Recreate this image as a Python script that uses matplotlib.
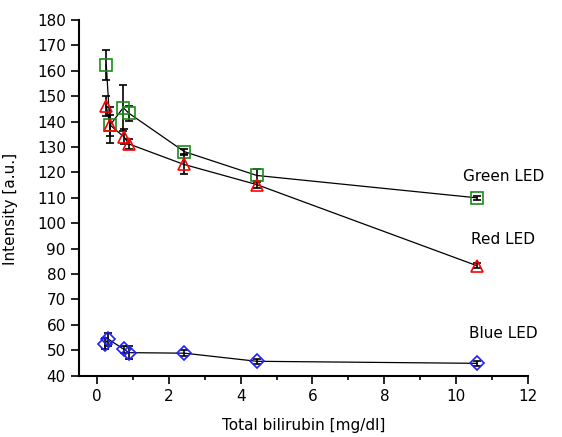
import matplotlib.pyplot as plt
from matplotlib.ticker import MultipleLocator

# data
green_x = [0.26, 0.36, 0.73, 0.89, 2.43, 4.45, 10.57]
green_y = [162.3, 138.5, 145.5, 143.3, 128.2, 118.8, 110.0]
green_err = [6.0, 4.0, 9.0, 3.0, 1.2, 2.5, 0.8]

red_x = [0.26, 0.36, 0.75, 0.89, 2.41, 4.45, 10.57]
red_y = [146.1, 138.7, 134.0, 131.2, 123.2, 115.2, 83.3]
red_err = [4.0, 7.0, 3.0, 2.0, 4.0, 1.5, 1.0]

blue_x = [0.22, 0.32, 0.75, 0.89, 2.43, 4.45, 10.57]
blue_y = [52.6, 54.3, 50.3, 49.0, 48.8, 45.6, 44.8]
blue_err = [2.0, 2.5, 1.5, 2.5, 1.2, 1.0, 1.0]

labels = ["Green LED", "Red LED", "Blue LED"]
label_xy = [(10.2, 118.3), (10.4, 93.5), (10.35, 56.5)]

fig = plt.figure(figsize=(5.62, 4.37), dpi=100)
ax = fig.add_axes([0.1406, 0.1407, 0.7989, 0.8133])

series = [
    (green_x, green_y, green_err, "s", 8, "#1a8a1a"),
    (red_x, red_y, red_err, "^", 9, "#ff0000"),
    (blue_x, blue_y, blue_err, "D", 7, "#2020ff"),
]
for x, y, err, mk, ms, col in series:
    ax.plot(x, y, color="black", linewidth=0.9, zorder=2)
    ax.errorbar(x, y, yerr=err, fmt="none", ecolor="black",
                elinewidth=1.2, capsize=3, capthick=1.2, zorder=3)
    ax.plot(x, y, linestyle="none", marker=mk, markersize=ms,
            markerfacecolor="none", markeredgecolor=col,
            markeredgewidth=1.2, zorder=4)

for text, (tx, ty) in zip(labels, label_xy):
    ax.text(tx, ty, text, fontsize=11, ha="left", va="center",
            clip_on=False)

ax.set_xlim(-0.5, 12)
ax.set_ylim(40, 180)
ax.xaxis.set_major_locator(MultipleLocator(2))
ax.xaxis.set_minor_locator(MultipleLocator(1))
ax.yaxis.set_major_locator(MultipleLocator(10))
ax.tick_params(axis="both", which="major", direction="out", length=6,
               width=1.2, labelsize=11)
ax.tick_params(axis="x", which="minor", direction="out", length=3, width=1.2)

ax.spines["top"].set_visible(False)
ax.spines["right"].set_visible(False)
ax.spines["left"].set_linewidth(1.5)
ax.spines["bottom"].set_linewidth(1.5)

ax.set_xlabel("Total bilirubin [mg/dl]", fontsize=11, labelpad=10)
ax.set_ylabel("Intensity [a.u.]", fontsize=11)
ax.yaxis.set_label_coords(-0.135, 0.468)

fig.savefig("out.png", dpi=100)
